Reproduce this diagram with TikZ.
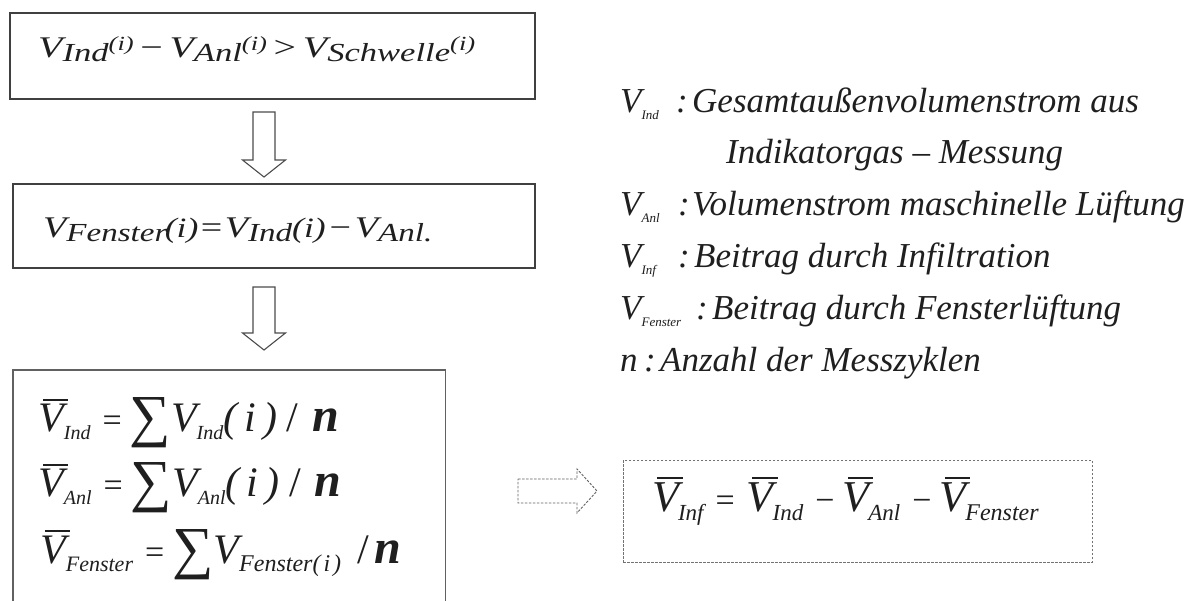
\documentclass[tikz,border=0pt]{standalone}
\usepackage{fontspec}
\setmainfont{Liberation Serif}
\usepackage{graphicx}
\usetikzlibrary{calc}
\newcommand\fs[1]{\fontsize{#1}{#1}\selectfont}
\newcommand\BV[1]{{\fs{#1}\itshape\rlap{\kern0.12em\rule[0.74em]{0.58em}{0.05em}}V}}
\newcommand\SB[3]{\raisebox{-#2pt}{\fs{#1}\itshape #3}}
\begin{document}
\begin{tikzpicture}[x=1pt,y=-1pt,
  box/.style={draw=black!75, line width=1.8pt, inner sep=0pt, anchor=north west},
  ftext/.style={inner sep=0pt, anchor=base west, text=black!88},
  blk/.style={draw=black!70, line width=1.1pt, fill=white, line join=miter},
  dblk/.style={draw=black!62, line width=0.9pt, dash pattern=on 2.5pt off 1.5pt, fill=white}]
\useasboundingbox (0,0) rectangle (1195,601);
\fill[white] (0,0) rectangle (1195,601);

% boxes
\node[box, minimum width=525pt, minimum height=86pt] (b1) at (9,12) {};
\node[box, minimum width=522pt, minimum height=84pt] (b2) at (12,183) {};
\node[inner sep=0pt, minimum width=432pt, minimum height=231pt, anchor=north west] (b3) at (13,370) {};
\draw[draw=black!62, line width=1.6pt] (b3.south west) |- (b3.north east) -- (b3.south east);
\node[draw=black!55, dash pattern=on 2.5pt off 1.5pt, line width=0.9pt, inner sep=0pt,
      minimum width=469pt, minimum height=102pt, anchor=north west] (b4) at (623,460) {};

% block arrows
\coordinate (a1) at (264,112);
\draw[blk] (a1) ++(-11,0) -- ++(0,48) -- ++(-10.5,0) -- ++(21.5,17) -- ++(21.5,-17) -- ++(-10.5,0) -- ++(0,-48) -- cycle;
\coordinate (a2) at (264,287);
\draw[blk] (a2) ++(-11,0) -- ++(0,46) -- ++(-10.5,0) -- ++(21.5,17) -- ++(21.5,-17) -- ++(-10.5,0) -- ++(0,-46) -- cycle;
\coordinate (a3) at (518,479);
\draw[dblk] (a3) -- ++(59,0) -- ++(0,-10) -- ++(20,22) -- ++(-20,22) -- ++(0,-10) -- ++(-59,0) -- cycle;

% formulas
\node[ftext] (f1) at (38,58) {\scalebox{1.33}[1]{\fs{30}\itshape V\SB{26}{4}{Ind}\raisebox{7pt}{\fs{20}(i)}\,{\upshape −}\,V\SB{26}{4}{Anl}\raisebox{7pt}{\fs{20}(i)}\,{\upshape >}\,V\SB{26}{4}{Schwelle}\raisebox{7pt}{\fs{20}(i)}}};
\node[ftext] (f2) at (43,238) {\scalebox{1.27}[1]{\fs{30}\itshape V\SB{26}{4}{Fenster}\kern-2pt{\fs{28}(i)}\kern2pt{\upshape =}\kern2pt V\SB{26}{4}{Ind}{\fs{28}(i)}\kern3pt{\upshape −}\kern3pt V\SB{26}{4}{Anl.}}};

\node[ftext] (f3) at (38,432) {\BV{42}\SB{20}{8}{Ind}\hspace{12pt}{\fs{34}=}\hspace{8pt}\raisebox{-4pt}{\fs{58}∑}{\fs{42}\itshape V}\SB{20}{8}{Ind}{\fs{42}\itshape(\,i\,)}\hspace{10pt}{\fs{42}/}\hspace{14pt}{\fs{48}\bfseries\itshape n}};
\node[ftext] (f4) at (38,497) {\BV{42}\SB{20}{8}{Anl}\hspace{12pt}{\fs{34}=}\hspace{8pt}\raisebox{-4pt}{\fs{58}∑}{\fs{42}\itshape V}\SB{20}{8}{Anl}{\fs{42}\itshape(\,i\,)}\hspace{10pt}{\fs{42}/}\hspace{14pt}{\fs{48}\bfseries\itshape n}};
\node[ftext] (f5) at (40,563) {\BV{42}\SB{22}{8}{Fenster}\hspace{12pt}{\fs{34}=}\hspace{8pt}\raisebox{-4pt}{\fs{58}∑}{\fs{42}\itshape V}\SB{24}{8}{Fenster(\kern3pt i\kern3pt)}\hspace{16pt}{\fs{42}/}\hspace{6pt}{\fs{48}\bfseries\itshape n}};

\node[ftext] (f6) at (652,512) {\BV{44}\kern-1pt\SB{23}{9}{Inf}\hspace{12pt}{\fs{34}=}\hspace{12pt}\BV{44}\kern-1pt\SB{23}{9}{Ind}\hspace{12pt}{\fs{34}−}\hspace{8pt}\BV{44}\kern-1pt\SB{23}{9}{Anl}\hspace{12pt}{\fs{34}−}\hspace{8pt}\BV{44}\kern-1pt\SB{24}{9}{Fenster}};

% legend
\node[ftext] (l1) at (620,113) {\fs{35}\itshape\makebox[56pt][l]{V\SB{13}{7}{Ind}}\makebox[16pt][l]{:}Gesamtaußenvolumenstrom aus};
\node[ftext] (l2) at (726,164) {\fs{35}\itshape Indikatorgas – Messung};
\node[ftext] (l3) at (620,216) {\fs{35}\itshape\makebox[58pt][l]{V\SB{13}{7}{Anl}}\makebox[14pt][l]{:}Volumenstrom maschinelle Lüftung};
\node[ftext] (l4) at (620,268) {\fs{35}\itshape\makebox[58pt][l]{V\SB{13}{7}{Inf}}\makebox[16pt][l]{:}Beitrag durch Infiltration};
\node[ftext] (l5) at (620,320) {\fs{35}\itshape\makebox[76pt][l]{V\SB{13}{7}{Fenster}}\makebox[16pt][l]{:}Beitrag durch Fensterlüftung};
\node[ftext] (l6) at (620,372) {\fs{35}\itshape\makebox[24pt][l]{n}\makebox[16pt][l]{:}Anzahl der Messzyklen};
\end{tikzpicture}
\end{document}
